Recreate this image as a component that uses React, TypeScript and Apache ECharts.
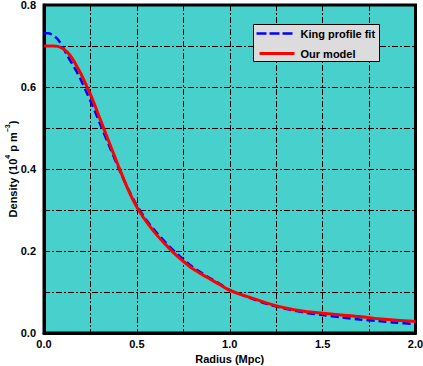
import React, { useEffect, useRef } from "react";
import * as echarts from "echarts";

const kingRadius = [0, 0.025, 0.05, 0.075, 0.1, 0.125, 0.15, 0.175, 0.2, 0.225, 0.25, 0.275, 0.3, 0.35, 0.4, 0.45, 0.5, 0.55, 0.6, 0.65, 0.7, 0.75, 0.8, 0.85, 0.9, 0.95, 1.0, 1.1, 1.2, 1.3, 1.4, 1.5, 1.6, 1.7, 1.8, 1.9, 2.0];
const kingDensity = [0.732, 0.731, 0.726, 0.716, 0.699, 0.677, 0.658, 0.638, 0.616, 0.591, 0.566, 0.54, 0.512, 0.458, 0.404, 0.354, 0.311, 0.276, 0.248, 0.223, 0.2, 0.18, 0.161, 0.146, 0.132, 0.119, 0.105, 0.087, 0.071, 0.059, 0.05, 0.044, 0.038, 0.033, 0.029, 0.025, 0.022];

const modelRadius = [0, 0.05, 0.075, 0.1, 0.125, 0.15, 0.175, 0.2, 0.225, 0.25, 0.275, 0.3, 0.35, 0.4, 0.45, 0.5, 0.55, 0.6, 0.65, 0.7, 0.75, 0.8, 0.85, 0.9, 0.95, 1.0, 1.1, 1.2, 1.3, 1.4, 1.5, 1.6, 1.7, 1.8, 1.9, 2.0];
const modelDensity = [0.7, 0.7, 0.699, 0.694, 0.685, 0.671, 0.652, 0.631, 0.607, 0.582, 0.554, 0.524, 0.466, 0.408, 0.353, 0.307, 0.272, 0.243, 0.218, 0.195, 0.175, 0.157, 0.143, 0.13, 0.117, 0.104, 0.088, 0.073, 0.061, 0.053, 0.048, 0.044, 0.04, 0.035, 0.031, 0.028];

const seriesNames = ["King profile fit", "Our model"];
const xTicks = { min: 0, max: 2.0, interval: 0.25 };
const yTicks = { min: 0, max: 0.8, interval: 0.1 };

const FONT = "'Liberation Sans', Arial, sans-serif";
const gridLine = { color: "#000", width: 1, type: [6, 2, 2, 2] as number[] };
const labelText = { fontFamily: FONT, fontWeight: "bold", fontSize: 11, fill: "#000" };

export default function App() {
  const ref = useRef<HTMLDivElement>(null);
  useEffect(() => {
    if (!ref.current) return;
    const chart = echarts.init(ref.current, undefined, { renderer: "svg" });
    const king = kingRadius.map((r, i) => [r, kingDensity[i]]);
    const model = modelRadius.map((r, i) => [r, modelDensity[i]]);
    chart.setOption({
      animation: false,
      backgroundColor: "#fff",
      textStyle: { fontFamily: FONT },
      grid: {
        left: 44,
        top: 5,
        right: 7.5,
        bottom: 33,
        containLabel: false,
        outerBoundsMode: "none",
        show: true,
        backgroundColor: "#48D1CC",
        borderColor: "#000",
        borderWidth: 3,
      },
      graphic: [
        {
          type: "group",
          left: 253,
          top: 24,
          z: 100,
          children: [
            { type: "rect", z: 100, shape: { x: 0, y: 0, width: 126, height: 37 }, style: { fill: "#dcdcdc", stroke: "#000", lineWidth: 1 } },
            { type: "line", z: 101, shape: { x1: 3, y1: 9, x2: 39, y2: 9 }, style: { stroke: "#0000ff", lineWidth: 2.5, lineDash: [10, 3] } },
            { type: "line", z: 101, shape: { x1: 6, y1: 29, x2: 41, y2: 29 }, style: { stroke: "#ff0000", lineWidth: 3 } },
            { type: "text", z: 101, x: 47, y: 9, style: { ...labelText, text: seriesNames[0], verticalAlign: "middle" } },
            { type: "text", z: 101, x: 47, y: 29, style: { ...labelText, text: seriesNames[1], verticalAlign: "middle" } },
          ],
        },
        {
          type: "text",
          x: 11,
          y: 169,
          rotation: Math.PI / 2,
          z: 100,
          style: {
            text: "{b|Density (10}{s|4}{b| p m}{s|−3}{b|)}",
            align: "center",
            verticalAlign: "middle",
            fill: "#000",
            rich: {
              b: { fontFamily: FONT, fontWeight: "bold", fontSize: 11, fill: "#000", lineHeight: 15, verticalAlign: "bottom" },
              s: { fontFamily: FONT, fontWeight: "bold", fontSize: 7, fill: "#000", lineHeight: 15, verticalAlign: "top" },
            },
          },
        },
      ],
      xAxis: {
        type: "value",
        min: xTicks.min,
        max: xTicks.max,
        interval: xTicks.interval,
        name: "Radius (Mpc)",
        nameLocation: "middle",
        nameGap: 19,
        nameTextStyle: { fontFamily: FONT, fontWeight: "bold", fontSize: 11, color: "#000" },
        axisLine: { show: true, lineStyle: { color: "#000", width: 3 } },
        axisTick: { show: true, inside: true, length: 4, lineStyle: { color: "#000", width: 1 } },
        axisLabel: {
          margin: 5,
          fontFamily: FONT,
          fontWeight: "bold",
          fontSize: 11,
          color: "#000",
          formatter: (v: number) => (Math.round(v * 100) % 50 === 0 ? v.toFixed(1) : ""),
        },
        splitLine: { show: true, lineStyle: gridLine },
      },
      yAxis: {
        type: "value",
        min: yTicks.min,
        max: yTicks.max,
        interval: yTicks.interval,
        axisLine: { show: true, lineStyle: { color: "#000", width: 3 } },
        axisTick: { show: false },
        axisLabel: {
          margin: 8,
          fontFamily: FONT,
          fontWeight: "bold",
          fontSize: 11,
          color: "#000",
          formatter: (v: number) => (Math.round(v * 10) % 2 === 0 ? v.toFixed(1) : ""),
        },
        splitLine: { show: true, lineStyle: gridLine },
      },
      series: [
        {
          name: seriesNames[0],
          type: "line",
          data: king,
          smooth: 0.3,
          showSymbol: false,
          symbol: "none",
          lineStyle: { color: "#0000ff", width: 2.5, type: [8, 4] },
          itemStyle: { color: "#0000ff" },
          z: 3,
        },
        {
          name: seriesNames[1],
          type: "line",
          data: model,
          smooth: 0.3,
          showSymbol: false,
          symbol: "none",
          lineStyle: { color: "#ff0000", width: 3, type: "solid" },
          itemStyle: { color: "#ff0000" },
          z: 4,
        },
      ],
    });
    return () => chart.dispose();
  }, []);
  return <div ref={ref} style={{ position: "fixed", left: 0, top: 0, width: 423, height: 366 }} />;
}
